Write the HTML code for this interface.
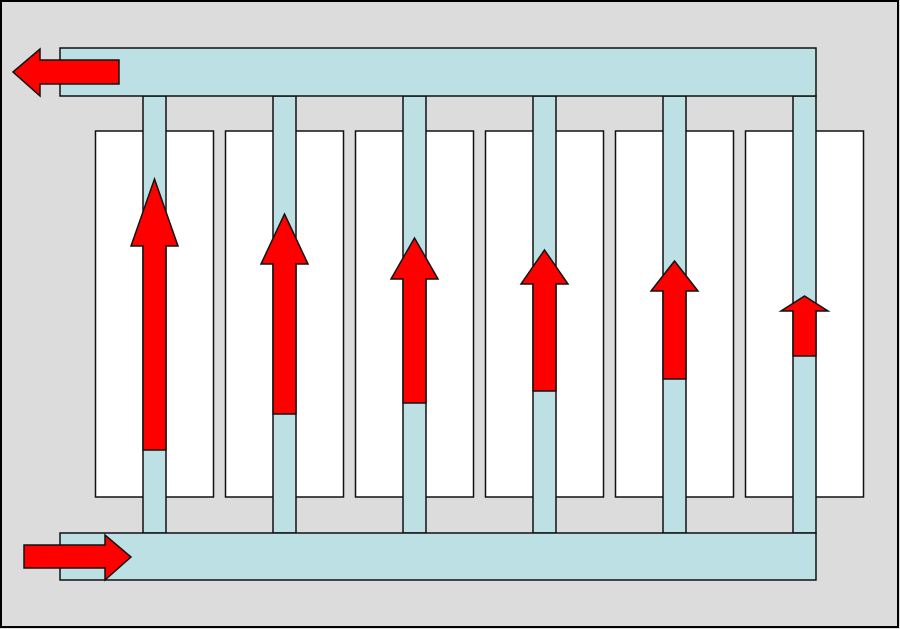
<!DOCTYPE html>
<html><head><meta charset="utf-8"><style>html,body{margin:0;padding:0;background:#ddd}svg{display:block}</style></head>
<body>
<svg width="900" height="629" viewBox="0 0 900 629" xmlns="http://www.w3.org/2000/svg">
<rect x="1" y="1" width="897" height="626" fill="#dcdcdc" stroke="#000" stroke-width="2"/>
<g fill="#fff" stroke="#111" stroke-width="1.5">
<rect x="95.5" y="131" width="118" height="366"/>
<rect x="225.5" y="131" width="118" height="366"/>
<rect x="355.5" y="131" width="118" height="366"/>
<rect x="485.5" y="131" width="118" height="366"/>
<rect x="615.5" y="131" width="118" height="366"/>
<rect x="745.5" y="131" width="118" height="366"/>
</g>
<g fill="#bce0e3" stroke="#111" stroke-width="1.5">
<rect x="143" y="96" width="23" height="437"/>
<rect x="273" y="96" width="23" height="437"/>
<rect x="403" y="96" width="23" height="437"/>
<rect x="533" y="96" width="23" height="437"/>
<rect x="663" y="96" width="23" height="437"/>
<rect x="793" y="96" width="23" height="437"/>
<rect x="60" y="48" width="756" height="48"/>
<rect x="60" y="533" width="756" height="47"/>
</g>
<g fill="#f00" stroke="#111" stroke-width="1.5" stroke-linejoin="miter">
<polygon points="13,72 40,49 40,60 119,60 119,84 40,84 40,96"/>
<polygon points="24,545 105,545 105,535 131,557 105,580 105,568 24,568"/>
<polygon points="154.5,179 178,246 166,246 166,450 143,450 143,246 131,246"/>
<polygon points="284.5,214 308,264 296,264 296,414 273,414 273,264 261,264"/>
<polygon points="414.5,238 438,279 426,279 426,403 403,403 403,279 391,279"/>
<polygon points="544.5,250 568,284 556,284 556,391 533,391 533,284 521,284"/>
<polygon points="674.5,261 698,291 686,291 686,379 663,379 663,291 651,291"/>
<polygon points="804.5,296 828,311 816,311 816,356 793,356 793,311 781,311"/>
</g>
</svg>
</body></html>
